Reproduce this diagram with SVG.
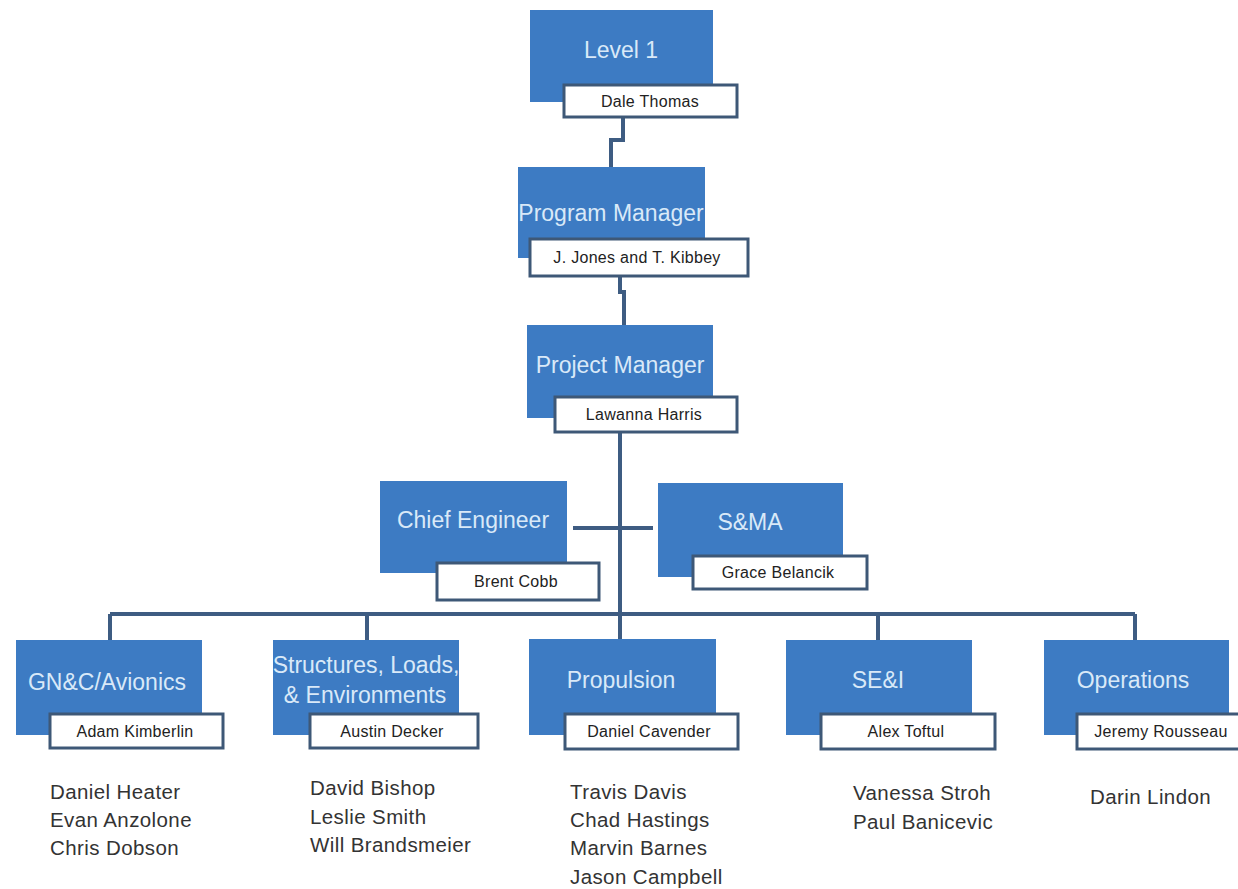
<svg xmlns="http://www.w3.org/2000/svg" width="1238" height="889" viewBox="0 0 1238 889">
<style>
.hd{fill:#3d7bc3}
.nb{fill:#ffffff;stroke:#3e5877;stroke-width:3}
.ht{font-family:"Liberation Sans",Arial,sans-serif;font-size:23px;fill:#d9e9f8;text-anchor:middle}
.nt{font-family:"Liberation Sans",Arial,sans-serif;font-size:16px;fill:#222;text-anchor:middle;letter-spacing:0.3px}
.mt{font-family:"Liberation Sans",Arial,sans-serif;font-size:20.5px;fill:#333;letter-spacing:0.4px}
.cn{fill:none;stroke:#3e5c82;stroke-width:4}
</style>
<rect width="1238" height="889" fill="#ffffff"/>
<g id="connectors">
<path class="cn" d="M623 117 V140 H611 V167"/>
<path class="cn" d="M620 276 V292 H624 V325"/>
<path class="cn" d="M620 432 V614"/>
<path class="cn" d="M573 528 H653"/>
<path class="cn" d="M110 614 H1135"/>
<path class="cn" d="M110 614 V640 M367 614 V640 M620 614 V640 M878 614 V640 M1135 614 V640"/>
</g>
<g id="level1">
<rect class="hd" x="530" y="10" width="183" height="92"/>
<text class="ht" x="621" y="58">Level 1</text>
<rect class="nb" x="564" y="85" width="173" height="32"/>
<text class="nt" x="650" y="107">Dale Thomas</text>
</g>
<g id="program-manager">
<rect class="hd" x="518" y="167" width="187" height="91"/>
<text class="ht" x="611" y="221">Program Manager</text>
<rect class="nb" x="530" y="239" width="218" height="37"/>
<text class="nt" x="637" y="263">J. Jones and T. Kibbey</text>
</g>
<g id="project-manager">
<rect class="hd" x="527" y="325" width="186" height="93"/>
<text class="ht" x="620" y="373">Project Manager</text>
<rect class="nb" x="555" y="397" width="182" height="35"/>
<text class="nt" x="644" y="420">Lawanna Harris</text>
</g>
<g id="chief-engineer">
<rect class="hd" x="380" y="481" width="187" height="92"/>
<text class="ht" x="473" y="528">Chief Engineer</text>
<rect class="nb" x="437" y="563" width="162" height="37"/>
<text class="nt" x="516" y="587">Brent Cobb</text>
</g>
<g id="sma">
<rect class="hd" x="658" y="483" width="185" height="94"/>
<text class="ht" x="750" y="530">S&amp;MA</text>
<rect class="nb" x="693" y="556" width="174" height="33"/>
<text class="nt" x="778" y="578">Grace Belancik</text>
</g>
<g id="gnc">
<rect class="hd" x="16" y="640" width="186" height="95"/>
<text class="ht" x="107" y="690">GN&amp;C/Avionics</text>
<rect class="nb" x="50" y="714" width="173" height="34"/>
<text class="nt" x="135" y="737">Adam Kimberlin</text>
<text class="mt" x="50" y="799">Daniel Heater</text>
<text class="mt" x="50" y="827">Evan Anzolone</text>
<text class="mt" x="50" y="855">Chris Dobson</text>
</g>
<g id="structures">
<rect class="hd" x="273" y="640" width="186" height="95"/>
<text class="ht" x="366" y="673">Structures, Loads,</text>
<text class="ht" x="365" y="703">&amp; Environments</text>
<rect class="nb" x="310" y="714" width="168" height="34"/>
<text class="nt" x="392" y="737">Austin Decker</text>
<text class="mt" x="310" y="795">David Bishop</text>
<text class="mt" x="310" y="824">Leslie Smith</text>
<text class="mt" x="310" y="852">Will Brandsmeier</text>
</g>
<g id="propulsion">
<rect class="hd" x="529" y="639" width="187" height="96"/>
<text class="ht" x="621" y="688">Propulsion</text>
<rect class="nb" x="565" y="714" width="173" height="35"/>
<text class="nt" x="649" y="737">Daniel Cavender</text>
<text class="mt" x="570" y="799">Travis Davis</text>
<text class="mt" x="570" y="827">Chad Hastings</text>
<text class="mt" x="570" y="855">Marvin  Barnes</text>
<text class="mt" x="570" y="884">Jason Campbell</text>
</g>
<g id="sei">
<rect class="hd" x="786" y="640" width="186" height="95"/>
<text class="ht" x="878" y="688">SE&amp;I</text>
<rect class="nb" x="821" y="714" width="174" height="35"/>
<text class="nt" x="906" y="737">Alex Toftul</text>
<text class="mt" x="853" y="800">Vanessa Stroh</text>
<text class="mt" x="853" y="829">Paul Banicevic</text>
</g>
<g id="operations">
<rect class="hd" x="1044" y="640" width="185" height="95"/>
<text class="ht" x="1133" y="688">Operations</text>
<rect class="nb" x="1077" y="714" width="165" height="35"/>
<text class="nt" x="1161" y="737">Jeremy  Rousseau</text>
<text class="mt" x="1090" y="804">Darin Lindon</text>
</g>
</svg>
